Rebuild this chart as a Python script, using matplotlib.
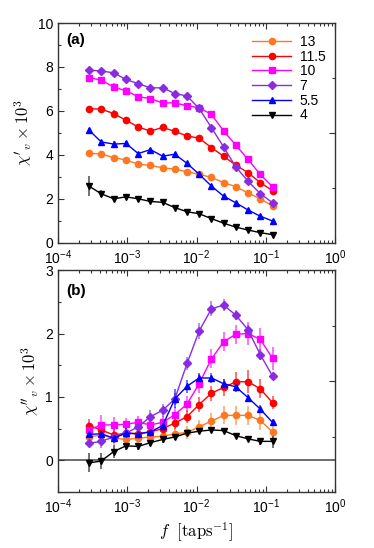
import matplotlib
matplotlib.use("Agg")
import matplotlib.pyplot as plt
from matplotlib.ticker import MultipleLocator, LogLocator, NullFormatter, FixedLocator

plt.rcParams['font.family'] = ['Liberation Sans', 'DejaVu Sans']
plt.rcParams['mathtext.fontset'] = 'cm'

# frequency points (taps^-1)
freq = [2.8e-4, 4.2e-4, 6.4e-4, 9.6e-4, 1.44e-3, 2.16e-3, 3.24e-3, 4.86e-3,
        7.3e-3, 1.09e-2, 1.64e-2, 2.46e-2, 3.69e-2, 5.54e-2, 8.3e-2, 0.125]

labels = ["13", "11.5", "10", "7", "5.5", "4"]
colors = ["#ff7722", "#ff0000", "#ff00ff", "#8a2be2", "#0000ff", "#000000"]
markers = ["o", "o", "s", "D", "^", "v"]
msizes = [4.5, 4.5, 4.2, 3.8, 4.5, 4.5]

# chi' x 10^3, panel (a)
re_13 = [4.08, 4.03, 3.88, 3.76, 3.58, 3.52, 3.41, 3.35, 3.23, 3.12, 2.97, 2.74, 2.55, 2.27, 2.00, 1.68]
re_115 = [6.10, 6.08, 5.88, 5.57, 5.27, 5.08, 5.25, 5.07, 4.86, 4.76, 4.33, 3.94, 3.53, 3.19, 2.74, 2.37]
re_10 = [7.52, 7.40, 7.09, 6.91, 6.65, 6.56, 6.36, 6.37, 6.23, 6.15, 5.84, 5.09, 4.44, 3.79, 3.11, 2.55]
re_7 = [7.85, 7.82, 7.73, 7.43, 7.24, 7.05, 7.05, 6.79, 6.68, 6.11, 5.24, 4.36, 3.45, 2.80, 2.24, 1.82]
re_55 = [5.13, 4.59, 4.49, 4.52, 4.06, 4.24, 3.94, 4.03, 3.61, 3.12, 2.58, 2.12, 1.82, 1.49, 1.21, 0.99]
re_4 = [2.58, 2.23, 2.00, 2.09, 2.00, 1.88, 1.84, 1.60, 1.41, 1.32, 1.10, 0.89, 0.71, 0.58, 0.46, 0.37]

re_err_13 = [0.08, 0.06, 0.06, 0.06, 0.06, 0.06, 0.06, 0.06, 0.06, 0.06, 0.08, 0.08, 0.1, 0.1, 0.12, 0.14]
re_err_115 = [0.08, 0.06, 0.15, 0.08, 0.06, 0.06, 0.06, 0.06, 0.06, 0.06, 0.08, 0.08, 0.1, 0.1, 0.1, 0.1]
re_err_10 = [0.08, 0.08, 0.18, 0.2, 0.1, 0.08, 0.08, 0.08, 0.12, 0.1, 0.1, 0.1, 0.1, 0.1, 0.1, 0.1]
re_err_7 = [0.06, 0.06, 0.06, 0.08, 0.06, 0.06, 0.06, 0.06, 0.06, 0.08, 0.08, 0.08, 0.08, 0.08, 0.08, 0.08]
re_err_55 = [0.08, 0.08, 0.15, 0.1, 0.08, 0.08, 0.08, 0.08, 0.08, 0.08, 0.08, 0.06, 0.06, 0.06, 0.06, 0.06]
re_err_4 = [0.45, 0.15, 0.08, 0.06, 0.06, 0.05, 0.05, 0.05, 0.05, 0.05, 0.05, 0.05, 0.05, 0.05, 0.05, 0.05]

# chi'' x 10^3, panel (b)
im_13 = [0.37, 0.40, 0.35, 0.33, 0.35, 0.37, 0.38, 0.42, 0.44, 0.53, 0.62, 0.71, 0.71, 0.71, 0.63, 0.45]
im_115 = [0.55, 0.48, 0.40, 0.43, 0.42, 0.45, 0.50, 0.59, 0.69, 0.88, 1.06, 1.15, 1.24, 1.24, 1.13, 0.91]
im_10 = [0.48, 0.56, 0.56, 0.57, 0.60, 0.56, 0.60, 0.72, 0.89, 1.21, 1.60, 1.87, 1.99, 2.00, 1.91, 1.61]
im_7 = [0.27, 0.30, 0.37, 0.43, 0.53, 0.69, 0.79, 0.97, 1.53, 2.04, 2.39, 2.45, 2.29, 2.06, 1.67, 1.33]
im_55 = [0.41, 0.42, 0.35, 0.43, 0.42, 0.45, 0.55, 0.97, 1.17, 1.30, 1.30, 1.21, 1.16, 0.99, 0.81, 0.60]
im_4 = [-0.04, -0.01, 0.14, 0.23, 0.22, 0.28, 0.33, 0.37, 0.43, 0.46, 0.48, 0.47, 0.39, 0.34, 0.30, 0.30]

im_err_13 = [0.1, 0.1, 0.1, 0.1, 0.1, 0.1, 0.1, 0.1, 0.1, 0.1, 0.12, 0.14, 0.15, 0.15, 0.15, 0.18]
im_err_115 = [0.1, 0.1, 0.1, 0.1, 0.1, 0.1, 0.1, 0.1, 0.1, 0.12, 0.12, 0.14, 0.15, 0.18, 0.15, 0.1]
im_err_10 = [0.12, 0.15, 0.12, 0.1, 0.1, 0.1, 0.1, 0.12, 0.12, 0.15, 0.15, 0.15, 0.15, 0.18, 0.18, 0.18]
im_err_7 = [0.06, 0.1, 0.1, 0.1, 0.1, 0.1, 0.1, 0.1, 0.1, 0.12, 0.12, 0.1, 0.08, 0.08, 0.08, 0.06]
im_err_55 = [0.08, 0.08, 0.08, 0.08, 0.1, 0.1, 0.1, 0.15, 0.1, 0.08, 0.08, 0.08, 0.08, 0.06, 0.06, 0.06]
im_err_4 = [0.15, 0.12, 0.1, 0.06, 0.06, 0.05, 0.05, 0.05, 0.05, 0.04, 0.04, 0.04, 0.04, 0.04, 0.06, 0.1]

re_data = [re_13, re_115, re_10, re_7, re_55, re_4]
re_errs = [re_err_13, re_err_115, re_err_10, re_err_7, re_err_55, re_err_4]
im_data = [im_13, im_115, im_10, im_7, im_55, im_4]
im_errs = [im_err_13, im_err_115, im_err_10, im_err_7, im_err_55, im_err_4]

spine_col = "#333333"
tick_fs = 10

fig = plt.figure(figsize=(3.74, 5.48), dpi=100)
ax_a = fig.add_axes([0.155, 0.557, 0.741, 0.401])
ax_b = fig.add_axes([0.155, 0.102, 0.741, 0.405])


def style_axis(ax, ylim, major, minor):
    ax.set_xscale("log")
    ax.set_xlim(1e-4, 1)
    ax.set_ylim(*ylim)
    ax.xaxis.set_major_locator(LogLocator(base=10, numticks=10))
    ax.xaxis.set_minor_locator(LogLocator(base=10, subs=range(2, 10), numticks=10))
    ax.xaxis.set_minor_formatter(NullFormatter())
    ax.yaxis.set_major_locator(MultipleLocator(major))
    ax.yaxis.set_minor_locator(MultipleLocator(minor))
    ax.tick_params(which="both", direction="in", top=True, right=False,
                   labelsize=tick_fs, color=spine_col)
    ax.tick_params(which="major", length=4, width=0.8)
    ax.tick_params(which="minor", length=2.5, width=0.8)
    ax.tick_params(axis="x", which="major", pad=4)
    for s in ax.spines.values():
        s.set_color(spine_col)
        s.set_linewidth(1.0)
    # right axis carries its own quarter ticks
    tw = ax.twinx()
    tw.set_ylim(0, 1)
    tw.yaxis.set_major_locator(FixedLocator([0.5]))
    tw.yaxis.set_minor_locator(FixedLocator([0.25, 0.75]))
    tw.tick_params(which="both", direction="in", labelright=False, color=spine_col, width=0.8)
    tw.tick_params(which="major", length=4)
    tw.tick_params(which="minor", length=2.5)
    for s in tw.spines.values():
        s.set_visible(False)


def draw(ax, data, errs):
    for y, e, c, m, ms, lab in zip(data, errs, colors, markers, msizes, labels):
        ax.errorbar(freq, y, yerr=e, fmt="none", ecolor=c, elinewidth=1.3, alpha=0.6, zorder=2)
        ax.plot(freq, y, color=c, marker=m, ms=ms, lw=1.0, label=lab, zorder=3)


style_axis(ax_a, (0, 10), 2, 1)
style_axis(ax_b, (-0.5, 3), 1, 0.5)

draw(ax_a, re_data, re_errs)
ax_b.axhline(0, color="#555555", lw=1.2, zorder=1)
draw(ax_b, im_data, im_errs)

ax_a.set_ylabel(r"$\chi'_v \times 10^3$", fontsize=12, labelpad=3)
ax_b.set_ylabel(r"$\chi''_v \times 10^3$", fontsize=12, labelpad=3)
ax_b.set_xlabel(r"$f\ \ [\mathrm{taps}^{-1}]$", fontsize=12, labelpad=3)

ax_a.text(0.03, 0.905, "(a)", transform=ax_a.transAxes, fontsize=11, fontweight="bold")
ax_b.text(0.03, 0.89, "(b)", transform=ax_b.transAxes, fontsize=11, fontweight="bold")

ax_a.legend(loc="upper right", bbox_to_anchor=(1.0, 0.99), frameon=False, fontsize=10,
            handlelength=2.8, handletextpad=0.6, labelspacing=0.05, borderaxespad=0.3)

fig.savefig("out.png", dpi=100)
